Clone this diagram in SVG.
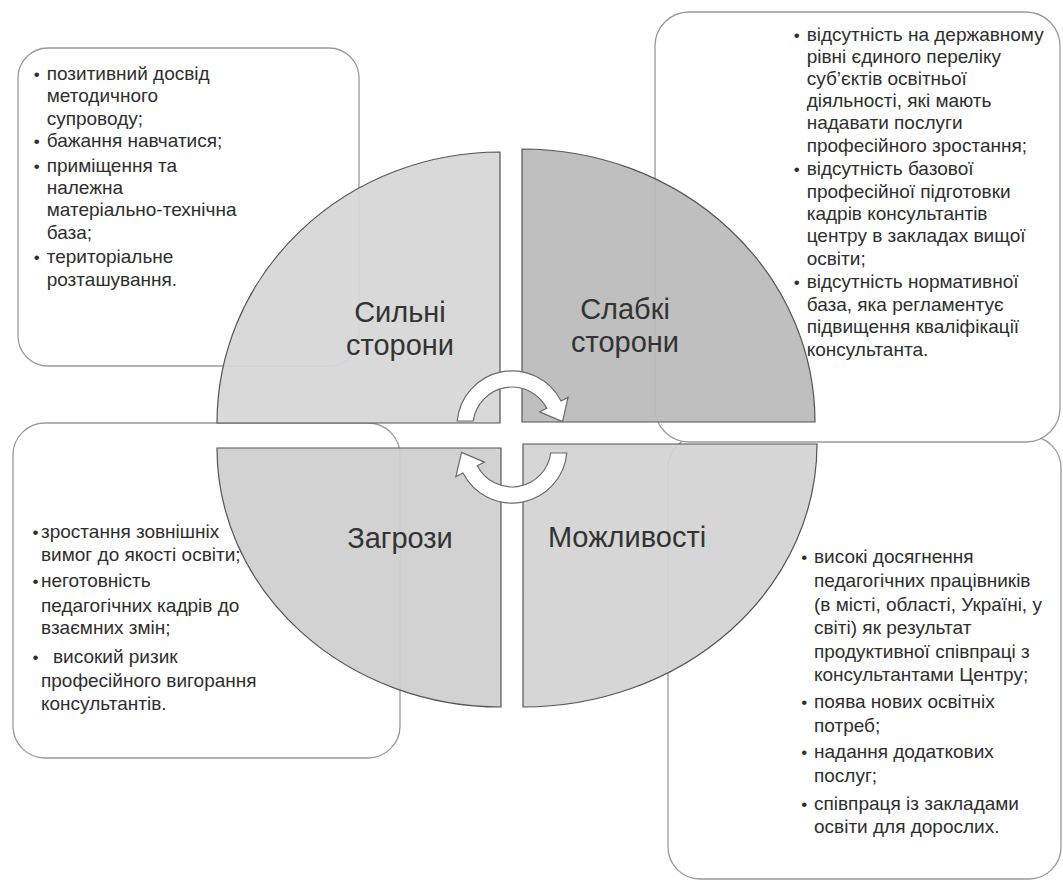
<svg xmlns="http://www.w3.org/2000/svg" width="1063" height="882" viewBox="0 0 1063 882">
<style>
.box{fill:#ffffff;stroke:#9a9a9a;stroke-width:1.3}
.q{stroke:#555555;stroke-width:1.2;fill-opacity:0.93}
.t{font-family:"Liberation Sans",Arial,sans-serif;font-size:19px;fill:#2e2e2e}
.b{font-family:"Liberation Sans",Arial,sans-serif;font-size:17px;fill:#2e2e2e;text-anchor:middle}
.lab{font-family:"Liberation Sans",Arial,sans-serif;font-size:29px;fill:#333333;text-anchor:middle}
.arr{fill:#ffffff;stroke:#6a6a6a;stroke-width:1.2}
</style>
<defs>
<path id="cyc" d="M 457.2 421 A 55 55 0 0 1 561 401 L 568.1 397.4 L 562.5 421.6 L 539.6 411.9 L 546.7 408.3 A 39 39 0 0 0 473.3 421 Z"/>
</defs>
<rect width="1063" height="882" fill="#ffffff"/>

<g id="box-opportunities">
<rect class="box" x="668" y="436" width="393" height="443" rx="32"/>
<text class="b" x="804.3" y="562.7">•</text>
<text class="t" x="814" y="562.7">високі досягнення</text>
<text class="t" x="814" y="586.7">педагогічних працівників</text>
<text class="t" x="814" y="611.2">(в місті, області, Україні, у</text>
<text class="t" x="814" y="634.2">світі) як результат</text>
<text class="t" x="814" y="657.7">продуктивної співпраці з</text>
<text class="t" x="814" y="680.7">консультантами Центру;</text>
<text class="b" x="804.3" y="708.3">•</text>
<text class="t" x="814" y="708.3">поява нових освітніх</text>
<text class="t" x="814" y="731.5">потреб;</text>
<text class="b" x="804.3" y="758">•</text>
<text class="t" x="814" y="758">надання додаткових</text>
<text class="t" x="814" y="781.5">послуг;</text>
<text class="b" x="804.3" y="809.5">•</text>
<text class="t" x="814" y="809.5">співпраця із закладами</text>
<text class="t" x="814" y="833">освіти для дорослих.</text>
</g>

<g id="box-weaknesses">
<rect class="box" x="655" y="12" width="405" height="430" rx="34"/>
<text class="b" x="796.7" y="40.5">•</text>
<text class="t" x="806.7" y="40.5">відсутність на державному</text>
<text class="t" x="806.7" y="62.5">рівні єдиного переліку</text>
<text class="t" x="806.7" y="84.5">суб’єктів освітньої</text>
<text class="t" x="806.7" y="106.7">діяльності, які мають</text>
<text class="t" x="806.7" y="129">надавати послуги</text>
<text class="t" x="806.7" y="151.5">професійного зростання;</text>
<text class="b" x="796.7" y="175">•</text>
<text class="t" x="806.7" y="175">відсутність базової</text>
<text class="t" x="806.7" y="197.5">професійної підготовки</text>
<text class="t" x="806.7" y="220">кадрів консультантів</text>
<text class="t" x="806.7" y="242.3">центру в закладах вищої</text>
<text class="t" x="806.7" y="264.5">освіти;</text>
<text class="b" x="796.7" y="288.3">•</text>
<text class="t" x="806.7" y="288.3">відсутність нормативної</text>
<text class="t" x="806.7" y="310.7">база, яка регламентує</text>
<text class="t" x="806.7" y="333.2">підвищення кваліфікації</text>
<text class="t" x="806.7" y="355.7">консультанта.</text>
</g>

<g id="box-strengths">
<rect class="box" x="18" y="48" width="341" height="318" rx="30"/>
<text class="b" x="36.7" y="80">•</text>
<text class="t" x="46.7" y="80">позитивний досвід</text>
<text class="t" x="46.7" y="102.3">методичного</text>
<text class="t" x="46.7" y="124.7">супроводу;</text>
<text class="b" x="36.7" y="147.3">•</text>
<text class="t" x="46.7" y="147.3">бажання навчатися;</text>
<text class="b" x="36.7" y="171.7">•</text>
<text class="t" x="46.7" y="171.7">приміщення та</text>
<text class="t" x="46.7" y="194">належна</text>
<text class="t" x="46.7" y="216.3">матеріально-технічна</text>
<text class="t" x="46.7" y="239">база;</text>
<text class="b" x="36.7" y="263.3">•</text>
<text class="t" x="46.7" y="263.3">територіальне</text>
<text class="t" x="46.7" y="285.7">розташування.</text>
</g>

<g id="box-threats">
<rect class="box" x="13" y="423" width="387" height="335" rx="32"/>
<text class="b" x="35.5" y="537.5">•</text>
<text class="t" x="41" y="537.5">зростання зовнішніх</text>
<text class="t" x="41" y="561">вимог до якості освіти;</text>
<text class="b" x="35.5" y="587">•</text>
<text class="t" x="41" y="587">неготовність</text>
<text class="t" x="41" y="611.5">педагогічних кадрів до</text>
<text class="t" x="41" y="634">взаємних змін;</text>
<text class="b" x="35.5" y="662.5">•</text>
<text class="t" x="53" y="662.5">високий ризик</text>
<text class="t" x="41" y="686.5">професійного вигорання</text>
<text class="t" x="41" y="709.5">консультантів.</text>
</g>

<g id="q-strengths">
<path class="q" fill="#d6d6d6" d="M 500 423 L 217 423 A 283 271 0 0 1 500 152 Z"/>
<text class="lab" x="400" y="322">Сильні</text>
<text class="lab" x="400" y="355">сторони</text>
</g>
<g id="q-weaknesses">
<path class="q" fill="#bababa" d="M 522 422 L 522 149 A 293 273 0 0 1 815 422 Z"/>
<text class="lab" x="625" y="319">Слабкі</text>
<text class="lab" x="625" y="352">сторони</text>
</g>
<g id="q-opportunities">
<path class="q" fill="#d3d3d3" d="M 523 444 L 817 444 A 294 263 0 0 1 523 707 Z"/>
<text class="lab" x="627" y="547">Можливості</text>
</g>
<g id="q-threats">
<path class="q" fill="#cfcfcf" d="M 501 448 L 501 707 A 284 259 0 0 1 217 448 Z"/>
<text class="lab" x="400" y="548">Загрози</text>
</g>

<g id="connectors">
<use href="#cyc" class="arr"/>
<use href="#cyc" class="arr" transform="rotate(180 512 437)"/>
</g>
</svg>
